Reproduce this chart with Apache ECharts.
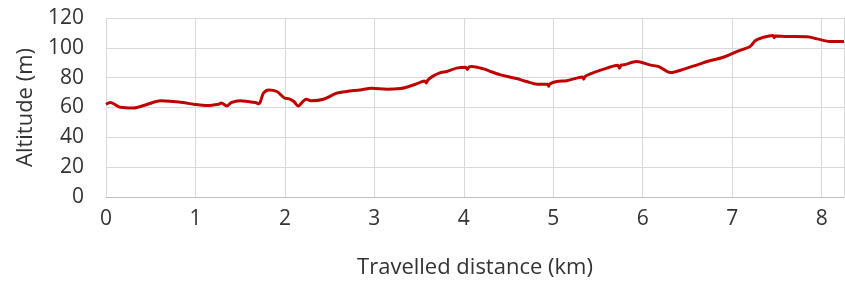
<!DOCTYPE html>
<html>
<head>
<meta charset="utf-8">
<script src="https://cdn.jsdelivr.net/npm/echarts@6/dist/echarts.min.js"></script>
<style>
  html, body { margin: 0; padding: 0; background: #fff; }
  #chart { width: 845px; height: 285px; }
</style>
</head>
<body>
<div id="chart"></div>
<script>
// travelled distance (km) and altitude (m)
var distance = [0, 0.05, 0.16, 0.31, 0.42, 0.53, 0.62, 0.75, 0.86, 0.98,
    1.13, 1.26, 1.29, 1.35, 1.40, 1.50, 1.59, 1.67, 1.71, 1.76, 1.82, 1.91,
    2.0, 2.05, 2.10, 2.15, 2.20, 2.24, 2.30, 2.43, 2.58, 2.69, 2.84, 2.97,
    3.14, 3.29, 3.36, 3.47, 3.56, 3.58, 3.60, 3.66, 3.74, 3.81, 3.92,
    4.02, 4.04, 4.06, 4.09, 4.22, 4.30, 4.41, 4.52, 4.59, 4.70, 4.82, 4.94, 4.95, 4.96,
    5.04, 5.15, 5.26, 5.33, 5.34, 5.36, 5.45, 5.60, 5.72, 5.74, 5.76, 5.79, 5.93,
    6.09, 6.18, 6.31, 6.46, 6.61, 6.72, 6.90,
    7.05, 7.20, 7.26, 7.35, 7.46, 7.47, 7.48, 7.61, 7.84, 7.95, 8.10, 8.25];
var altitude = [62.2, 63.3, 60.2, 59.7, 61.3, 63.5, 64.6, 64, 63.3, 62.2,
    61.3, 62.2, 63, 61, 63.3, 64.6, 64, 63.3, 62.5, 69.6, 71.8, 70.7,
    66.2, 65.8, 64, 61, 64, 65.5, 64.5, 65.5, 69.6, 70.7, 71.8, 72.9,
    72.3, 72.7, 73.6, 75.8, 77.8, 76.5, 78.5, 81.2, 83.4, 84.1, 86.4,
    87, 85.5, 87.3, 87.5, 85.9, 84.1, 81.9, 80.3, 79.4, 77.4, 75.6, 75.6, 74.2, 75.8,
    77.4, 78, 79.7, 80.5, 79, 81, 83.4, 86.4, 88.3, 86.3, 88.5, 88.6, 90.8,
    88.4, 87.4, 83.4, 85.7, 88.6, 90.8, 93.7,
    97.5, 100.9, 104.9, 107.1, 108.3, 106.8, 108, 107.6, 107.4, 106, 104.2, 104.2];

var profile = distance.map(function (d, i) { return [d, altitude[i]]; });

var chart = echarts.init(document.getElementById('chart'));
var font = 'Open Sans';

var option = {
    animation: false,
    grid: {
        left: 106,
        right: 1,
        top: 18,
        bottom: 88
    },
    xAxis: {
        type: 'value',
        min: 0,
        max: 8.25,
        interval: 1,
        name: 'Travelled distance (km)',
        nameLocation: 'middle',
        nameGap: 60,
        nameTextStyle: { fontFamily: font, fontSize: 22, color: '#333333' },
        axisLine: { show: true, lineStyle: { color: '#bfbfbf', width: 1 } },
        axisTick: { show: false },
        axisLabel: {
            fontFamily: font,
            fontSize: 21,
            color: '#333333',
            margin: 12,
            showMaxLabel: false
        },
        splitLine: { show: true, lineStyle: { color: '#d9d9d9', width: 1 } }
    },
    yAxis: {
        type: 'value',
        min: 0,
        max: 120,
        interval: 20,
        name: 'Altitude (m)',
        nameLocation: 'middle',
        nameGap: 67,
        nameTextStyle: { fontFamily: font, fontSize: 22, color: '#333333' },
        axisLine: { show: false },
        axisTick: { show: false },
        axisLabel: {
            fontFamily: font,
            fontSize: 21,
            color: '#333333',
            margin: 22
        },
        splitLine: { show: true, lineStyle: { color: '#d9d9d9', width: 1 } }
    },
    series: [
        {
            name: 'Altitude',
            type: 'line',
            data: profile,
            showSymbol: false,
            smooth: 0.3,
            lineStyle: { color: '#c00000', width: 3 }
        }
    ]
};

chart.setOption(option);
</script>
</body>
</html>
